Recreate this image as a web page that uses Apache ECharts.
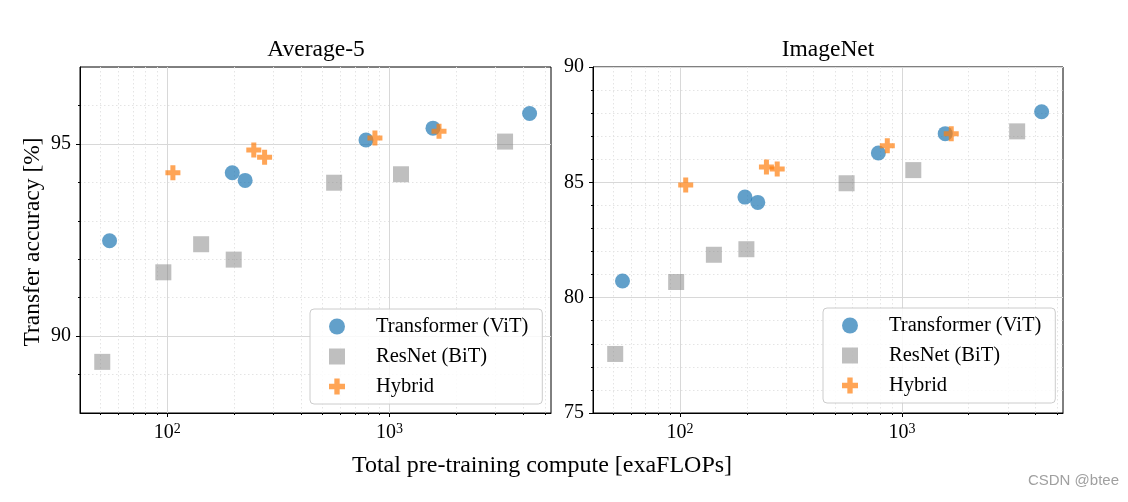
<!DOCTYPE html>
<html><head><meta charset="utf-8">
<script src="https://cdn.jsdelivr.net/npm/echarts@6/dist/echarts.min.js"></script>
<style>html,body{margin:0;padding:0;background:#fff}#c{width:1128px;height:502px}</style>
</head><body><div id="c"></div>
<script>
// ---- data ----
const panelTitles = ['Average-5', 'ImageNet'];
const seriesNames = ['Transformer (ViT)', 'ResNet (BiT)', 'Hybrid'];
const xAxisTitle = 'Total pre-training compute [exaFLOPs]';
const yAxisTitle = 'Transfer accuracy [%]';
const watermark = 'CSDN @btee';

const computeViT = [55, 196, 224, 783, 1567, 4262];
const computeBiT = [51, 96, 142, 199, 563, 1125, 3306];
const computeHybrid = [106, 245, 274, 859, 1668];

const avg5ViT = [92.48, 94.25, 94.05, 95.10, 95.41, 95.79];
const avg5BiT = [89.33, 91.66, 92.39, 91.99, 93.99, 94.21, 95.06];
const avg5Hybrid = [94.25, 94.84, 94.65, 95.15, 95.33];

const imagenetViT = [80.72, 84.36, 84.13, 86.27, 87.11, 88.06];
const imagenetBiT = [77.56, 80.68, 81.86, 82.10, 84.96, 85.53, 87.21];
const imagenetHybrid = [84.88, 85.66, 85.58, 86.59, 87.11];

const xRange = [40.5, 5320];
const xMajorTicks = [100, 1000];
const xMinorTicks = [50, 60, 70, 80, 90, 200, 300, 400, 500, 600, 700, 800, 900, 2000, 3000, 4000, 5000];
const yRangeAvg5 = [88, 97];
const yMajorTicksAvg5 = [90, 95];
const yMinorTicksAvg5 = [89, 91, 92, 93, 94, 96];
const yRangeImageNet = [75, 90];
const yMajorTicksImageNet = [75, 80, 85, 90];
const yMinorTicksImageNet = [76, 77, 78, 79, 81, 82, 83, 84, 86, 87, 88, 89];

// ---- chart ----
const SERIF = "'Liberation Serif', 'DejaVu Serif', serif";
const zip = (xs, ys) => xs.map((x, i) => [x, ys[i]]);
const plusPath = 'path://M-1,-3H1V-1H3V1H1V3H-1V1H-3V-1H-1Z';
const colors = ['#1f77b4', '#808080', '#ff7f0e'];
const opac = [0.7, 0.5, 0.7];
const symbols = ['circle', 'rect', plusPath];
const sizes = [15, 16, 15];

const panels = [
  { title: panelTitles[0], yRange: yRangeAvg5, yMajor: yMajorTicksAvg5, yMinor: yMinorTicksAvg5,
    ys: [avg5ViT, avg5BiT, avg5Hybrid], grid: { left: 80, right: 577, top: 67, bottom: 89 }, cx: 316, legend: { left: 310, top: 309 } },
  { title: panelTitles[1], yRange: yRangeImageNet, yMajor: yMajorTicksImageNet, yMinor: yMinorTicksImageNet,
    ys: [imagenetViT, imagenetBiT, imagenetHybrid], grid: { left: 593, right: 65, top: 67, bottom: 89 }, cx: 828, legend: { left: 823, top: 308 } }
];
const xs = [computeViT, computeBiT, computeHybrid];

const grid = [], xAxis = [], yAxis = [], series = [], legend = [], graphic = [];
panels.forEach((p, g) => {
  grid.push(Object.assign({ show: true, borderColor: '#000', borderWidth: 1, backgroundColor: 'transparent', containLabel: false }, p.grid));
  // major x
  xAxis.push({
    type: 'log', logBase: 10, gridIndex: g, min: xRange[0], max: xRange[1], position: 'bottom',
    axisLine: { show: true, lineStyle: { color: '#000', width: 1 } },
    axisTick: { show: true, length: 4, lineStyle: { color: '#000' }, customValues: xMajorTicks },
    axisLabel: {
      customValues: xMajorTicks, margin: 9, color: '#000', fontFamily: SERIF, fontSize: 20,
      formatter: v => '{b|10}{s|' + Math.round(Math.log10(v)) + '}',
      rich: { b: { fontFamily: SERIF, fontSize: 20, color: '#000' }, s: { fontFamily: SERIF, fontSize: 14, color: '#000', verticalAlign: 'top', padding: [0, 0, 8, 0] } }
    },
    splitLine: { show: true, lineStyle: { color: '#d8d8d8', width: 1 } },
    minorTick: { show: false }
  });
  // minor x
  xAxis.push({
    type: 'log', logBase: 10, gridIndex: g, min: xRange[0], max: xRange[1], position: 'bottom',
    axisLine: { show: false },
    axisTick: { show: true, length: 2, lineStyle: { color: '#000' }, customValues: xMinorTicks },
    axisLabel: { show: false, customValues: xMinorTicks },
    splitLine: { show: true, lineStyle: { color: '#e4e4e4', width: 1, type: [1.5, 2.5] } }
  });
  // major y
  yAxis.push({
    type: 'value', gridIndex: g, min: p.yRange[0], max: p.yRange[1], position: 'left',
    axisLine: { show: true, lineStyle: { color: '#000', width: 1 } },
    axisTick: { show: true, length: 4, lineStyle: { color: '#000' }, customValues: p.yMajor },
    axisLabel: { customValues: p.yMajor, margin: 9, color: '#000', fontFamily: SERIF, fontSize: 20 },
    splitLine: { show: true, lineStyle: { color: '#d8d8d8', width: 1 } }
  });
  // minor y
  yAxis.push({
    type: 'value', gridIndex: g, min: p.yRange[0], max: p.yRange[1], position: 'left',
    axisLine: { show: false },
    axisTick: { show: true, length: 2, lineStyle: { color: '#000' }, customValues: p.yMinor },
    axisLabel: { show: false, customValues: p.yMinor },
    splitLine: { show: true, lineStyle: { color: '#e4e4e4', width: 1, type: [1.5, 2.5] } }
  });
  seriesNames.forEach((name, k) => {
    series.push({
      name, type: 'scatter', xAxisIndex: 2 * g, yAxisIndex: 2 * g,
      symbol: symbols[k], symbolSize: sizes[k], z: 3 + k,
      itemStyle: { color: colors[k], opacity: opac[k] },
      emphasis: { disabled: true },
      data: zip(xs[k], p.ys[k])
    });
  });
  legend.push({
    orient: 'vertical', left: p.legend.left, top: p.legend.top,
    padding: [7, 14, 7, 19], itemGap: 9, itemWidth: 16, itemHeight: 16,
    backgroundColor: 'rgba(255,255,255,0.85)', borderColor: '#cccccc', borderWidth: 1, borderRadius: 4,
    selectedMode: false, z: 10,
    textStyle: { fontFamily: SERIF, fontSize: 20.5, color: '#000', padding: [0, 0, 0, 26], lineHeight: 20 },
    data: seriesNames.map((n, k) => ({ name: n, icon: symbols[k] }))
  });
  graphic.push({
    type: 'text', x: p.cx, y: 50,
    style: { text: p.title, font: '23.5px ' + SERIF, fill: '#000', textAlign: 'center', textVerticalAlign: 'middle' }
  });
});

graphic.push({ type: 'text', x: 542, y: 466, style: { text: xAxisTitle, font: '24px ' + SERIF, fill: '#000', textAlign: 'center', textVerticalAlign: 'middle' } });
graphic.push({ type: 'text', x: 33, y: 242, rotation: Math.PI / 2, style: { text: yAxisTitle, font: '23.5px ' + SERIF, fill: '#000', textAlign: 'center', textVerticalAlign: 'middle' } });
graphic.push({ type: 'text', x: 1119, y: 481, style: { text: watermark, font: "15px 'Liberation Sans', Arial, sans-serif", fill: '#a0a0a0', textAlign: 'right', textVerticalAlign: 'middle' } });

const chart = echarts.init(document.getElementById('c'), null, { renderer: 'canvas' });
chart.setOption({ animation: false, backgroundColor: '#fff', grid, xAxis, yAxis, series, legend, graphic });
</script>
</body></html>
